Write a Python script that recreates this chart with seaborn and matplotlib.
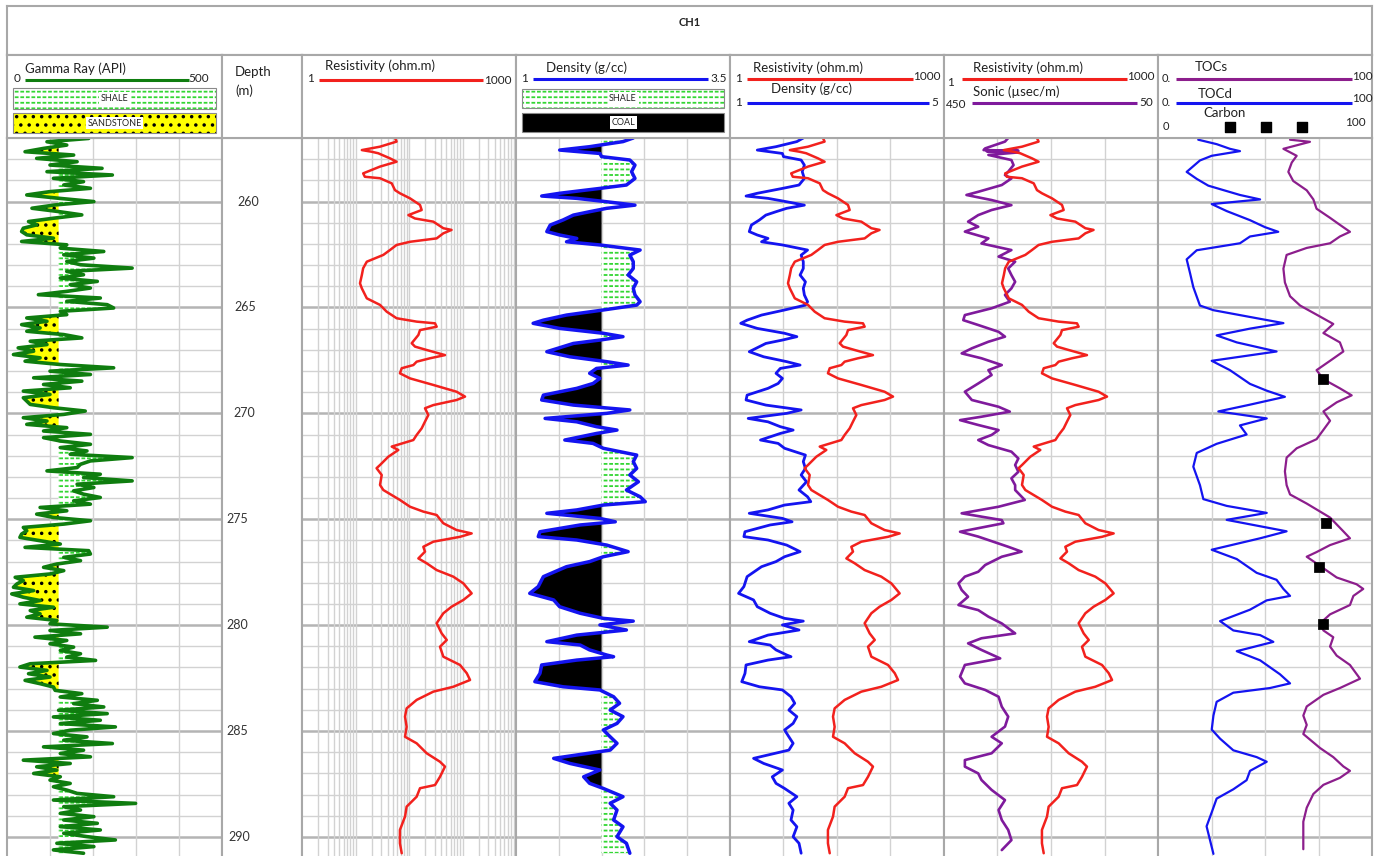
import numpy as np
import matplotlib
matplotlib.use("Agg")
import matplotlib.pyplot as plt
from matplotlib.patches import Rectangle
from matplotlib.ticker import NullLocator
import seaborn as sns

# ── figure geometry (pixels) ──
W, H = 1381, 856
TOP, BOTTOM = 257.0, 290.9

# ── Gamma ray (API), regular log sampling ──
GR_DEPTH = np.linspace(257.02, 290.77, 216)
GR_API = [
    190, 93, 139, 85, 42, 155, 69, 163, 100, 221,
    93, 245, 108, 178, 132, 194, 100, 46, 120, 202,
    112, 58, 120, 174, 108, 50, 69, 38, 34, 46,
    108, 34, 139, 124, 225, 132, 202, 139, 171, 291,
    139, 178, 124, 210, 147, 194, 139, 73, 217, 139,
    233, 248, 124, 139, 46, 93, 34, 77, 46, 132,
    174, 54, 93, 26, 62, 15, 77, 42, 124, 248,
    100, 194, 62, 174, 85, 147, 38, 100, 38, 46,
    54, 108, 182, 132, 38, 93, 46, 139, 85, 194,
    85, 124, 194, 124, 186, 147, 291, 194, 171, 163,
    93, 217, 178, 291, 163, 202, 155,
    178, 217, 155, 194, 77, 139, 69, 108, 194, 132,
    38, 46, 34, 30, 77, 124, 42, 190, 194, 132,
    171, 116, 85, 132, 100, 19, 38, 23, 15, 62,
    11, 38, 77, 30, 108, 54, 77, 46, 116, 100,
    233, 100, 171, 65, 139, 100, 155, 124, 171, 139,
    206, 54, 30, 93, 50, 100, 42, 77, 108, 112,
    174, 124, 210, 155, 225, 120, 233, 108, 217, 124,
    252, 147, 108, 186, 132, 245, 85, 178, 124, 194,
    38, 147, 69, 116, 62, 124, 100, 147, 108, 139,
    163, 248, 108, 299, 132, 171, 124, 202, 132, 210,
    124, 217, 132, 186, 252, 116, 202, 108, 178,
]
GR_CUTOFF = 120

# ── Resistivity (ohm.m) ──
RES_DEPTH = [
    257.0, 257.17, 257.41, 257.57, 257.65, 257.72, 257.96, 258.12, 258.35, 258.67,
    258.83, 258.9, 259.14, 259.46, 259.61, 259.85, 260.16, 260.4, 260.64, 260.8,
    260.95, 261.26, 261.34, 261.5, 261.74, 261.9, 262.05, 262.29, 262.52, 262.84,
    263.15, 263.47, 263.86, 264.1, 264.57, 264.88, 265.2, 265.51, 265.67, 265.75,
    265.91, 266.07, 266.3, 266.69, 266.85, 267.01, 267.25, 267.4, 267.56, 267.72,
    267.87, 268.11, 268.35, 268.66, 268.98, 269.21, 269.37, 269.61, 269.76, 270.08,
    270.39, 270.71, 271.02, 271.26, 271.57, 271.73, 272.05, 272.44, 272.59, 272.91,
    273.38, 273.62, 274.09, 274.41, 274.64, 274.8, 275.19, 275.51, 275.67, 275.83,
    276.06, 276.3, 276.53, 276.85, 277.08, 277.4, 277.71, 278.03, 278.5, 278.81,
    279.13, 279.44, 279.91, 280.39, 280.7, 281.02, 281.49, 281.88, 282.27, 282.59,
    282.91, 283.14, 283.53, 283.93, 284.32, 284.8, 285.27, 285.58, 286.05, 286.45,
    286.68, 287.16, 287.55, 287.7, 288.1, 288.57, 289.04, 289.67, 290.3, 290.77,
]
RES = [
    20.1, 21.2, 12.4, 6.9, 9.5, 11.7, 17.1, 21.2, 12.4, 7.2,
    7.6, 12.4, 18.1, 20.1, 23.6, 32.7, 45.1, 47.6, 31.0, 38.4,
    69.4, 95.8, 125, 95.8, 77.2, 32.7, 21.2, 17.1, 13.8, 8.1,
    7.2, 6.9, 6.5, 6.9, 8.1, 12.4, 15.4, 21.2, 40.5, 73.2,
    77.2, 45.1, 42.8, 34.5, 38.4, 56.0, 101, 62.3, 40.5, 36.4,
    25.0, 23.6, 32.7, 69.4, 147, 193, 147, 69.4, 53.0, 59.0,
    53.0, 47.6, 40.5, 36.4, 18.1, 22.4, 16.2, 12.4, 11.1, 13.1,
    12.4, 13.8, 23.6, 32.7, 50.2, 77.2, 95.8, 147, 239, 164,
    69.4, 50.2, 53.0, 42.8, 56.0, 77.2, 132, 183, 239, 183,
    125, 95.8, 77.2, 90.8, 107, 86.0, 95.8, 164, 204, 227,
    132, 69.4, 40.5, 29.3, 27.8, 29.3, 27.8, 40.5, 56.0, 86.0,
    101, 86.0, 73.2, 45.1, 40.5, 29.3, 27.8, 23.6, 23.6, 25.0,
]

# ── Bulk density (g/cc) ──
DEN_DEPTH = [
    257.0, 257.17, 257.41, 257.57, 257.73, 257.88, 258.04, 258.28, 258.59, 258.91,
    259.22, 259.38, 259.61, 259.74, 259.85, 260.01, 260.17, 260.32, 260.48, 260.64,
    260.87, 261.11, 261.42, 261.58, 261.74, 261.9, 262.05, 262.29, 262.53, 262.84,
    263.16, 263.47, 263.79, 264.1, 264.41, 264.73, 264.89, 265.12, 265.36, 265.6,
    265.75, 265.99, 266.22, 266.38, 266.54, 266.7, 267.09, 267.33, 267.56, 267.72,
    267.88, 268.11, 268.35, 268.59, 268.82, 269.14, 269.37, 269.61, 269.84, 270.0,
    270.24, 270.4, 270.63, 270.79, 270.95, 271.26, 271.42, 271.65, 271.97, 272.28,
    272.6, 272.91, 273.23, 273.62, 273.94, 274.17, 274.33, 274.56, 274.72, 274.96,
    275.12, 275.27, 275.59, 275.82, 275.98, 276.22, 276.53, 276.77, 277.0, 277.24,
    277.71, 278.18, 278.5, 278.81, 279.13, 279.44, 279.68, 279.81, 279.99, 280.23,
    280.47, 280.78, 280.94, 281.17, 281.41, 281.49, 281.65, 281.88, 282.28, 282.67,
    282.91, 283.06, 283.38, 283.69, 284.01, 284.32, 284.64, 284.95, 285.27, 285.58,
    285.9, 286.13, 286.29, 286.53, 286.84, 287.16, 287.47, 287.71, 288.1, 288.41,
    288.73, 289.2, 289.52, 289.99, 290.3, 290.77,
]
DEN = [
    2.37, 2.25, 1.86, 1.51, 1.98, 2.00, 2.33, 2.39, 2.35, 2.39,
    2.29, 1.98, 1.51, 1.30, 1.71, 2.06, 2.39, 2.06, 1.86, 1.67,
    1.55, 1.40, 1.36, 1.51, 1.71, 1.59, 1.98, 2.45, 2.33, 2.37,
    2.37, 2.31, 2.41, 2.37, 2.39, 2.45, 2.41, 2.02, 1.59, 1.32,
    1.20, 1.51, 2.02, 2.25, 1.98, 1.67, 1.36, 1.63, 2.06, 2.31,
    1.94, 1.86, 1.98, 1.90, 1.71, 1.32, 1.30, 1.67, 2.33, 2.06,
    1.34, 1.71, 1.94, 2.18, 1.94, 1.57, 1.90, 2.02, 2.41, 2.37,
    2.41, 2.33, 2.43, 2.29, 2.45, 2.51, 2.02, 1.71, 1.36, 1.98,
    2.16, 1.75, 1.28, 1.26, 1.71, 2.06, 2.31, 2.02, 1.86, 1.59,
    1.32, 1.26, 1.16, 1.44, 1.51, 1.75, 2.02, 2.37, 1.98, 2.29,
    1.71, 1.36, 1.75, 1.86, 2.06, 2.14, 1.71, 1.30, 1.28, 1.22,
    1.55, 1.98, 2.14, 2.21, 2.10, 2.25, 2.18, 2.02, 2.10, 2.18,
    2.10, 1.71, 1.44, 1.63, 1.98, 1.79, 1.86, 2.02, 2.25, 2.10,
    2.18, 2.14, 2.25, 2.18, 2.29, 2.33,
]
DEN_CUTOFF = 2.0

# ── Sonic (µsec/m) ──
DT_DEPTH = [
    257.0, 257.17, 257.49, 257.57, 257.6, 257.63, 257.68, 257.8, 258.04, 258.28,
    258.59, 258.75, 258.91, 259.22, 259.54, 259.69, 259.93, 260.17, 260.4, 260.64,
    260.95, 261.19, 261.42, 261.74, 261.98, 262.29, 262.6, 262.84, 263.16, 263.47,
    263.79, 264.1, 264.41, 264.73, 265.04, 265.36, 265.6, 265.83, 266.15, 266.38,
    266.62, 266.93, 267.17, 267.4, 267.72, 267.96, 268.19, 268.59, 268.98, 269.37,
    269.69, 269.92, 270.16, 270.32, 270.55, 270.79, 271.02, 271.26, 271.5, 271.81,
    272.13, 272.44, 272.76, 273.07, 273.39, 273.62, 274.09, 274.41, 274.72, 275.04,
    275.19, 275.59, 275.82, 276.3, 276.53, 276.77, 277.16, 277.48, 277.71, 278.03,
    278.34, 278.66, 279.05, 279.29, 279.6, 279.92, 280.39, 280.62, 280.86, 281.17,
    281.57, 281.88, 282.43, 282.75, 283.06, 283.38, 283.85, 284.32, 284.79, 285.27,
    285.58, 286.05, 286.37, 286.68, 287.0, 287.31, 287.78, 288.26, 288.73, 289.2,
    289.67, 290.15, 290.62,
]
DT = [
    330, 336, 373, 376, 311, 370, 311, 367, 324, 320,
    330, 336, 324, 342, 386, 408, 361, 324, 361, 386,
    405, 386, 411, 367, 380, 324, 348, 317, 330, 324,
    317, 324, 336, 327, 361, 411, 414, 386, 348, 336,
    367, 398, 417, 380, 342, 367, 361, 386, 411, 398,
    348, 327, 380, 420, 386, 348, 361, 386, 367, 324,
    311, 317, 311, 324, 317, 317, 299, 348, 417, 342,
    339, 420, 386, 330, 305, 342, 373, 386, 411, 423,
    417, 405, 423, 386, 367, 342, 317, 380, 405, 380,
    345, 411, 420, 411, 373, 348, 342, 330, 336, 361,
    342, 361, 411, 411, 386, 380, 361, 336, 348, 342,
    330, 324, 342,
]

# ── TOC (%) ──
TOCD_DEPTH = [
    257.08, 257.29, 257.51, 257.62, 257.84, 258.06, 258.6, 258.93, 259.25, 259.69,
    259.9, 260.12, 260.45, 260.88, 261.21, 261.43, 261.65, 261.97, 262.3, 262.73,
    263.39, 264.04, 264.91, 265.13, 265.45, 265.74, 266.0, 266.32, 266.65, 267.08,
    267.52, 267.96, 268.61, 268.93, 269.22, 269.59, 269.91, 270.24, 270.57, 271.0,
    271.44, 271.87, 272.52, 273.39, 274.05, 274.37, 274.7, 275.03, 275.57, 275.9,
    276.44, 276.88, 277.53, 277.86, 278.29, 278.62, 278.83, 279.27, 279.81, 280.25,
    280.47, 280.79, 281.23, 281.66, 282.32, 282.75, 282.97, 283.19, 283.62, 284.27,
    284.93, 285.36, 285.91, 286.23, 286.45, 286.88, 287.32, 287.75, 288.19, 288.84,
    289.5, 290.15, 290.8,
]
TOCD = [
    18.8, 27.4, 33.6, 38.3, 25.1, 19.6, 13.4, 18.1, 23.5, 38.3,
    47.7, 25.1, 32.1, 43.0, 50.0, 56.2, 43.0, 38.3, 18.1, 13.4,
    15.0, 16.5, 19.6, 25.9, 43.0, 58.6, 43.0, 27.4, 36.8, 55.4,
    25.1, 33.6, 43.0, 50.8, 59.3, 43.0, 28.2, 50.8, 38.3, 41.4,
    27.4, 18.1, 16.5, 19.6, 21.2, 32.1, 50.8, 32.1, 60.1, 47.7,
    25.1, 36.8, 46.1, 55.4, 58.6, 61.7, 50.8, 43.0, 29.0, 35.2,
    47.7, 53.9, 36.8, 47.7, 57.0, 61.7, 52.3, 35.2, 27.4, 25.9,
    25.1, 29.0, 35.2, 46.1, 50.8, 43.0, 41.4, 35.2, 27.4, 25.1,
    22.7, 24.3, 25.9,
]
TOCS_DEPTH = [
    257.08, 257.18, 257.51, 257.84, 258.16, 258.6, 259.03, 259.47, 259.9, 260.34,
    260.77, 261.1, 261.43, 261.65, 261.97, 262.19, 262.52, 263.17, 263.82, 264.47,
    264.91, 265.34, 265.78, 266.21, 266.65, 267.08, 267.52, 267.96, 268.39, 268.82,
    269.15, 269.48, 269.91, 270.35, 270.78, 271.22, 271.65, 272.09, 272.74, 273.39,
    273.83, 274.26, 274.92, 275.57, 275.9, 276.22, 276.55, 276.77, 277.09, 277.42,
    277.75, 278.07, 278.29, 278.62, 279.05, 279.49, 279.92, 280.25, 280.57, 281.01,
    281.44, 281.88, 282.53, 282.97, 283.29, 283.84, 284.27, 284.71, 285.14, 285.8,
    286.23, 286.67, 286.88, 287.21, 287.54, 287.97, 288.62, 289.28, 289.93, 290.58,
]
TOCS = [
    61.7, 71.0, 58.6, 64.8, 62.5, 60.9, 63.2, 69.5, 72.6, 74.1,
    80.4, 85.0, 89.7, 85.0, 80.4, 69.5, 60.1, 58.6, 59.3, 61.7,
    66.4, 74.1, 81.9, 77.3, 85.0, 86.6, 80.4, 74.1, 77.3, 85.0,
    90.5, 83.5, 77.3, 80.4, 77.3, 74.1, 64.8, 60.1, 59.3, 60.1,
    61.7, 69.5, 80.4, 86.6, 89.7, 80.4, 74.1, 69.5, 74.1, 78.8,
    83.5, 92.8, 95.9, 91.3, 89.7, 80.4, 75.7, 77.3, 81.9, 80.4,
    83.5, 89.7, 94.4, 85.0, 77.3, 69.5, 67.9, 69.5, 67.9, 75.7,
    81.9, 86.6, 89.7, 85.0, 77.3, 72.6, 69.5, 67.9, 67.9, 67.9,
]
CARBON_DEPTH = [268.38, 275.18, 277.26, 279.95]
CARBON = [77.1, 78.5, 75.2, 77.1]

DEPTH_LABELS = [260, 265, 270, 275, 280, 285, 290]

# ── colours ──
GREEN = "#0f7d0f"
RED = "#f2211d"
BLUE = "#1414f0"
PURPLE_DT = "#7f1a9c"
PURPLE_TOC = "#8c1e8c"
YELLOW = "#ffff00"
SHALE_GREEN = "#33d633"
GRID = "#d2d2d2"
GRID5 = "#b4b4b4"
EDGE = "#a8a8a8"

sns.set_style("white")
plt.rcParams["font.family"] = ["Lato", "DejaVu Sans"]
plt.rcParams["hatch.linewidth"] = 1.3

fig = plt.figure(figsize=(W / 100, H / 100), dpi=100)


def px_axes(x0, y0, x1, y1):
    return fig.add_axes([x0 / W, 1 - y1 / H, (x1 - x0) / W, (y1 - y0) / H])


def clean(ax):
    ax.set_xticks([])
    ax.set_yticks([])
    ax.xaxis.set_minor_locator(NullLocator())
    ax.yaxis.set_minor_locator(NullLocator())
    ax.set(xlabel="", ylabel="")
    for s in ax.spines.values():
        s.set_color(EDGE)
        s.set_linewidth(1.5)
    ax.spines["bottom"].set_visible(False)


def track(x0, x1, xlim, vlines, log=False):
    ax = px_axes(x0, 138, x1, H)
    if log:
        ax.set_xscale("log")
    ax.set_xlim(*xlim)
    ax.set_ylim(BOTTOM, TOP)
    for d in range(258, 291):
        major = d % 5 == 0
        ax.axhline(d, color=GRID5 if major else GRID, lw=1.8 if major else 1.0, zorder=0)
    for v in vlines:
        ax.axvline(v, color=GRID, lw=1.0, zorder=0)
    clean(ax)
    return ax


def shale_fill(ax, depth, vals, cut, where):
    # green dashes: horizontal hatch broken up by a white vertical hatch
    ax.fill_betweenx(depth, vals, cut, where=where, interpolate=True, facecolor="white",
                     edgecolor=SHALE_GREEN, hatch="---", linewidth=0, zorder=1)
    ax.fill_betweenx(depth, vals, cut, where=where, interpolate=True, facecolor="none",
                     edgecolor="white", hatch="|||", linewidth=0, zorder=1.2)


def twin_res(ax):
    tw = ax.twiny()
    tw.set_xscale("log")
    tw.set_xlim(1, 1000)
    tw.set_ylim(BOTTOM, TOP)
    sns.lineplot(x=RES, y=RES_DEPTH, sort=False, estimator=None, color=RED, lw=1.8, ax=tw)
    clean(tw)
    for s in tw.spines.values():
        s.set_visible(False)
    return tw


def curve(ax, x, y, color, lw):
    sns.lineplot(x=x, y=y, sort=False, estimator=None, color=color, lw=lw, ax=ax, zorder=3)
    ax.set(xlabel="", ylabel="")


# ── Gamma ray track ──
gr = np.array(GR_API, dtype=float)
ax_gr = track(7, 222, (0, 500), [100, 200, 300, 400])
ax_gr.fill_betweenx(GR_DEPTH, gr, GR_CUTOFF, where=gr < GR_CUTOFF, interpolate=True,
                    facecolor=YELLOW, edgecolor="black", hatch="..", linewidth=0, zorder=1)
shale_fill(ax_gr, GR_DEPTH, gr, GR_CUTOFF, gr >= GR_CUTOFF)
curve(ax_gr, gr, GR_DEPTH, GREEN, 2.6)

# ── Depth track ──
ax_dp = px_axes(222, 138, 302, H)
ax_dp.set_ylim(BOTTOM, TOP)
ax_dp.set_xlim(222, 302)
clean(ax_dp)
label_x = {260: 237, 265: 234, 270: 233, 275: 226, 280: 226, 285: 226, 290: 228}
for d in DEPTH_LABELS:
    ax_dp.text(label_x[d], d, str(d), ha="left", va="center", fontsize=9, color="#333333")

# ── Resistivity track (log) ──
res_grid = [10 ** (0.75 * (i + np.log10(k))) for i in range(4) for k in range(1, 10)][1:]
ax_res = track(302, 516, (1, 1000), res_grid, log=True)
curve(ax_res, RES, RES_DEPTH, RED, 1.8)

# ── Density track ──
den = np.array(DEN)
ax_den = track(516, 730, (1, 3.5), [1.5, 2.0, 2.5, 3.0])
ax_den.fill_betweenx(DEN_DEPTH, den, DEN_CUTOFF, where=den < DEN_CUTOFF, interpolate=True,
                     facecolor="black", linewidth=0, zorder=1)
shale_fill(ax_den, DEN_DEPTH, den, DEN_CUTOFF, den >= DEN_CUTOFF)
curve(ax_den, DEN, DEN_DEPTH, BLUE, 2.5)

# ── Resistivity + density ──
ax_rd = track(730, 944, (1, 5), [2, 3, 4])
curve(ax_rd, DEN, DEN_DEPTH, BLUE, 2.0)
twin_res(ax_rd)

# ── Resistivity + sonic ──
ax_rs = track(944, 1158, (450, 50), [350, 250, 150])
curve(ax_rs, DT, DT_DEPTH, PURPLE_DT, 1.9)
twin_res(ax_rs)

# ── TOC track ──
ax_toc = track(1158, 1372, (0, 100), [25, 50, 75])
curve(ax_toc, TOCD, TOCD_DEPTH, BLUE, 1.6)
curve(ax_toc, TOCS, TOCS_DEPTH, PURPLE_TOC, 1.6)
sns.scatterplot(x=CARBON, y=CARBON_DEPTH, marker="s", s=45, color="black",
                edgecolor="black", ax=ax_toc, zorder=5)
ax_toc.set(xlabel="", ylabel="")

# ── title box ──
ax_t = px_axes(7, 6, 1372, 55)
clean(ax_t)
ax_t.spines["bottom"].set_visible(True)
ax_t.text(0.5, 0.67, "CH1", ha="center", va="center", fontsize=8, fontweight="bold")


# ── headers ──
def header(x0, x1):
    hx = px_axes(x0, 55, x1, 138)
    hx.set_xlim(x0, x1)
    hx.set_ylim(138, 55)
    clean(hx)
    hx.spines["bottom"].set_visible(True)
    return hx


def scale(hx, x0, x1, y, color):
    hx.plot([x0, x1], [y, y], color=color, lw=2.2, solid_capstyle="butt")


def txt(hx, x, y, s, size=9.5, ha="left"):
    hx.text(x, y, s, ha=ha, va="center", fontsize=size, color="#222222")


def litho_box(hx, x0, y0, x1, y1, label, face, edge, hatch, dashed=False):
    hx.add_patch(Rectangle((x0, y0), x1 - x0, y1 - y0, facecolor=face, edgecolor=edge,
                           hatch=hatch, linewidth=0))
    if dashed:
        hx.add_patch(Rectangle((x0, y0), x1 - x0, y1 - y0, facecolor="none",
                               edgecolor="white", hatch="|||", linewidth=0))
    hx.add_patch(Rectangle((x0, y0), x1 - x0, y1 - y0, fill=False, edgecolor="#8a8a8a", lw=0.8))
    hx.text((x0 + x1) / 2, (y0 + y1) / 2, label, ha="center", va="center", fontsize=6.5,
            color="#222222", bbox=dict(facecolor="white", edgecolor="none", pad=1.2))


h = header(7, 222)
txt(h, 14, 78, "0", 8.5)
txt(h, 25, 69, "Gamma Ray (API)")
scale(h, 25, 189, 80, GREEN)
txt(h, 188, 79, "500", 8.5)
litho_box(h, 13, 88, 216, 109, "SHALE", "white", SHALE_GREEN, "---", dashed=True)
litho_box(h, 13, 113, 216, 133, "SANDSTONE", YELLOW, "black", "..")

h = header(222, 302)
txt(h, 235, 72, "Depth")
txt(h, 235, 91, "(m)")

h = header(302, 516)
txt(h, 307, 79, "1", 8.5)
txt(h, 325, 66, "Resistivity (ohm.m)")
scale(h, 319, 483, 80, RED)
txt(h, 484, 81, "1000", 8.5)

h = header(516, 730)
txt(h, 521, 78, "1", 8.5)
txt(h, 546, 68, "Density (g/cc)")
scale(h, 533, 708, 79, BLUE)
txt(h, 710, 79, "3.5", 8.5)
litho_box(h, 522, 89, 724, 108, "SHALE", "white", SHALE_GREEN, "---", dashed=True)
litho_box(h, 522, 113, 724, 132, "COAL", "black", "black", None)

h = header(730, 944)
txt(h, 735, 79, "1", 8.5)
txt(h, 753, 68, "Resistivity (ohm.m)")
scale(h, 747, 913, 79, RED)
txt(h, 913, 77, "1000", 8.5)
txt(h, 771, 89, "Density (g/cc)")
txt(h, 735, 103, "1", 8.5)
scale(h, 747, 929, 103, BLUE)
txt(h, 931, 102, "5", 8.5)

h = header(944, 1158)
txt(h, 947, 82, "1", 8.5)
txt(h, 973, 68, "Resistivity (ohm.m)")
scale(h, 962, 1127, 79, RED)
txt(h, 1127, 77, "1000", 8.5)
txt(h, 973, 92, "Sonic (µsec/m)")
txt(h, 946, 104, "450", 8.5)
scale(h, 972, 1137, 103, PURPLE_DT)
txt(h, 1139, 102, "50", 8.5)

h = header(1158, 1372)
txt(h, 1162, 78, "0.", 8)
txt(h, 1195, 67, "TOCs")
scale(h, 1176, 1352, 79, PURPLE_TOC)
txt(h, 1352, 76, "100", 8.5)
txt(h, 1162, 103, "0.", 8)
txt(h, 1198, 94, "TOCd")
scale(h, 1176, 1352, 103, BLUE)
txt(h, 1352, 99, "100", 8.5)
txt(h, 1203, 113, "Carbon")
txt(h, 1163, 126, "0", 8)
h.scatter([1230, 1266, 1302], [127, 127, 127], marker="s", s=45, color="black")
txt(h, 1345, 123, "100", 8.5)

fig.savefig("out.png", dpi=100, facecolor="white")
